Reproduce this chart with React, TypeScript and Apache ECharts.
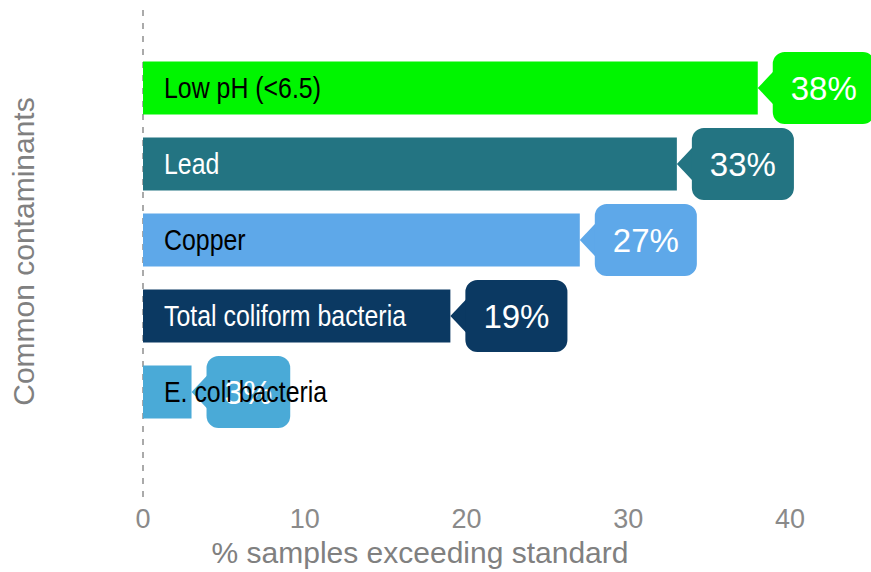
import React, { useEffect, useRef } from "react";
import * as echarts from "echarts";

const categories = ["Low pH (<6.5)", "Lead", "Copper", "Total coliform bacteria", "E. coli bacteria"];
const values = [38, 33, 27, 19, 3];
const barColors = ["#00f500", "#237482", "#5ea8e9", "#0b3962", "#4aaad7"];
const labelColors = ["#000000", "#ffffff", "#000000", "#ffffff", "#000000"];
const xTickValues = [0, 10, 20, 30, 40];

const SANS = "'Liberation Sans', Arial, Helvetica, sans-serif";

export default function App() {
  const ref = useRef<HTMLDivElement>(null);

  useEffect(() => {
    if (!ref.current) return;
    const chart = echarts.init(ref.current, null, { renderer: "svg" });

    const option: any = {
      animation: false,
      grid: { left: 142, top: 50, width: 730, height: 385 },
      xAxis: {
        type: "value",
        min: 0,
        max: 45,
        interval: 10,
        axisLine: { show: false },
        axisTick: { show: false },
        splitLine: { show: false },
        axisLabel: {
          show: true,
          margin: 75,
          fontSize: 27,
          color: "#8a8a8a",
          fontFamily: SANS,
          showMaxLabel: false,
          formatter: (v: number) => (xTickValues.indexOf(v) >= 0 ? String(v) : ""),
        },
        name: "% samples exceeding standard",
        nameLocation: "middle",
        nameGap: 102,
        nameTextStyle: {
          fontSize: 30,
          color: "#808080",
          fontFamily: SANS,
          padding: [0, 174, 0, 0],
        },
      },
      yAxis: {
        type: "category",
        inverse: true,
        data: categories,
        axisLine: { show: false },
        axisTick: { show: false },
        splitLine: { show: false },
        axisLabel: { show: false },
        name: "Common contaminants",
        nameLocation: "middle",
        nameGap: 105,
        nameTextStyle: {
          fontSize: 30,
          color: "#808080",
          fontFamily: SANS,
          padding: [0, 23, 0, 0],
        },
      },
      series: [
        {
          type: "bar",
          z: 2,
          barWidth: 53,
          data: values.map((v, i) => ({ value: v, itemStyle: { color: barColors[i] } })),
        },
        {
          type: "custom",
          z: 3,
          encode: { x: 0, y: 1 },
          data: values.map((v, i) => [v, i]),
          renderItem: (params: any, api: any) => {
            const v = api.value(0);
            const idx = api.value(1);
            const p = api.coord([v, idx]);
            const color = barColors[idx];
            return {
              type: "group",
              children: [
                {
                  type: "polygon",
                  shape: {
                    points: [
                      [p[0], p[1]],
                      [p[0] + 17, p[1] - 18],
                      [p[0] + 17, p[1] + 18],
                    ],
                  },
                  style: { fill: color },
                },
                {
                  type: "text",
                  x: p[0] + 15,
                  y: p[1],
                  style: {
                    text: v + "%",
                    fill: "#ffffff",
                    fontSize: 33,
                    lineHeight: 34,
                    fontFamily: SANS,
                    align: "left",
                    verticalAlign: "middle",
                    backgroundColor: color,
                    padding: [19, 18, 19, 18],
                    borderRadius: 12,
                  },
                },
              ],
            };
          },
        },
        {
          type: "custom",
          z: 5,
          encode: { x: 0, y: 1 },
          data: values.map((v, i) => [0, i]),
          renderItem: (params: any, api: any) => {
            const idx = api.value(1);
            const p = api.coord([0, idx]);
            return {
              type: "text",
              x: p[0] + 21,
              y: p[1],
              scaleX: 0.83,
              style: {
                text: categories[idx],
                fill: labelColors[idx],
                fontSize: 30,
                fontFamily: SANS,
                align: "left",
                verticalAlign: "middle",
              },
            };
          },
        },
      ],
    };

    chart.setOption(option);
    const x0 = chart.convertToPixel({ xAxisIndex: 0 }, 0) as number;
    chart.setOption({
      graphic: [
        {
          type: "line",
          z: 1,
          shape: { x1: x0, y1: 10, x2: x0, y2: 497 },
          style: { stroke: "#aaaaaa", lineWidth: 2, lineDash: [6, 7] },
        },
      ],
    });

    return () => chart.dispose();
  }, []);

  return (
    <div
      ref={ref}
      style={{ position: "fixed", left: 0, top: 0, width: 871, height: 572, background: "#ffffff" }}
    />
  );
}
